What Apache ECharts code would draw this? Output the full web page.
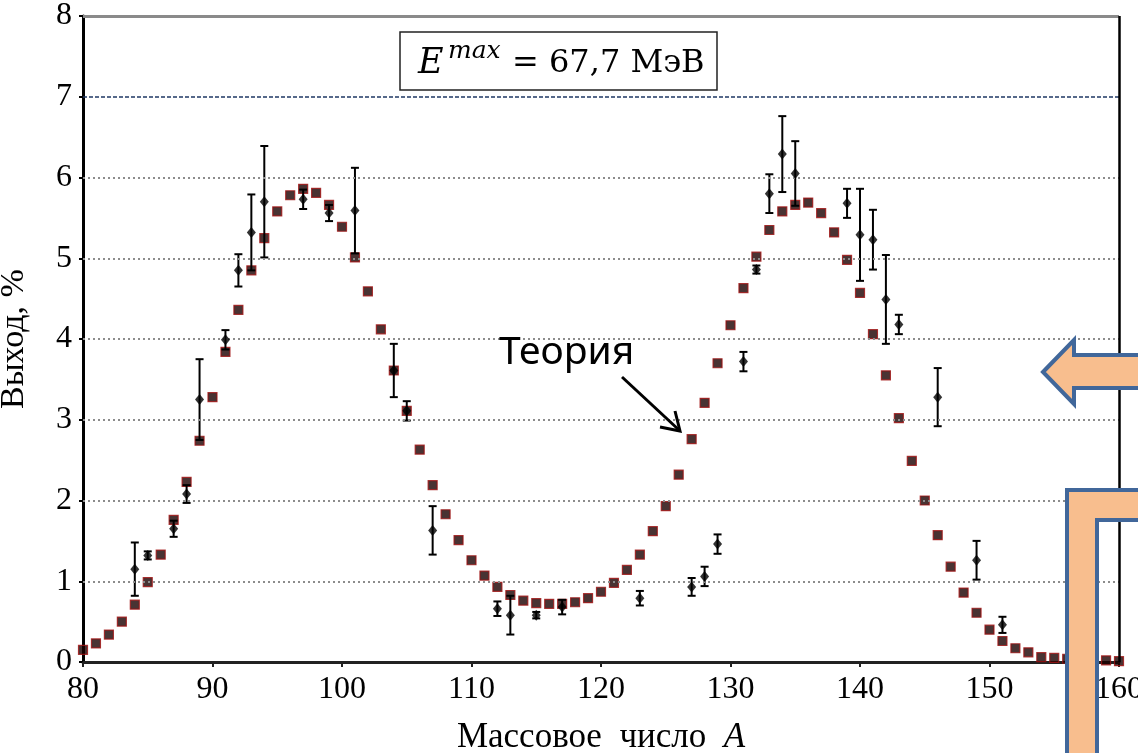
<!DOCTYPE html>
<html>

<head>
    <meta charset="UTF-8">
    <title>echarts-выход осколков</title>
</head>

<script src="https://cdn.jsdelivr.net/npm/echarts@6/dist/echarts.min.js"></script>

<body style="margin:0;background:#fff;">
    <div id="yieldBox" style="width: 1138px;height:753px;"></div>

    <script>
        // теория: массовое число и выход, %
        var theoryA = [];
        for (var a = 80; a <= 160; a++) theoryA.push(a);
        var theoryY = [
            0.15, 0.23, 0.34, 0.50, 0.71, 0.99, 1.33, 1.76, 2.23, 2.74,
            3.28, 3.84, 4.36, 4.85, 5.25, 5.58, 5.78, 5.86, 5.81, 5.66,
            5.39, 5.01, 4.59, 4.12, 3.61, 3.11, 2.63, 2.19, 1.83, 1.51,
            1.26, 1.07, 0.93, 0.83, 0.76, 0.73, 0.72, 0.72, 0.74, 0.79,
            0.87, 0.98, 1.14, 1.33, 1.62, 1.93, 2.32, 2.76, 3.21, 3.70,
            4.17, 4.63, 5.02, 5.35, 5.58, 5.66, 5.69, 5.56, 5.32, 4.98,
            4.57, 4.06, 3.55, 3.02, 2.49, 2.00, 1.57, 1.18, 0.86, 0.61,
            0.40, 0.26, 0.17, 0.12, 0.06, 0.05, 0.04, 0.03, 0.02, 0.02,
            0.01
        ];

        // эксперимент: массовое число, выход и погрешность
        var expA = [84, 85, 87, 88, 89, 91, 92, 93, 94, 97, 99, 101, 104, 105, 107, 112, 113, 115,
            117, 123, 127, 128, 129, 131, 132, 133, 134, 135, 139, 140, 141, 142, 143, 146, 149, 151];
        var expY = [1.15, 1.32, 1.65, 2.08, 3.25, 3.99, 4.85, 5.32, 5.70, 5.73, 5.56, 5.59, 3.61, 3.11, 1.63, 0.66, 0.58, 0.58,
            0.68, 0.79, 0.93, 1.06, 1.46, 3.72, 4.86, 5.80, 6.29, 6.05, 5.68, 5.29, 5.23, 4.49, 4.18, 3.28, 1.26, 0.46];
        var expErr = [0.33, 0.05, 0.10, 0.11, 0.50, 0.12, 0.20, 0.47, 0.69, 0.12, 0.10, 0.53, 0.33, 0.12, 0.30, 0.09, 0.24, 0.04,
            0.09, 0.09, 0.11, 0.12, 0.12, 0.12, 0.05, 0.24, 0.47, 0.40, 0.18, 0.57, 0.37, 0.55, 0.12, 0.36, 0.24, 0.10];

        var xTicks = [80, 90, 100, 110, 120, 130, 140, 150, 160];
        var yTicks = [0, 1, 2, 3, 4, 5, 6, 7, 8];

        yieldChart('yieldBox');

        function yieldChart(idname) {
            var myChart = echarts.init(document.getElementById(idname));
            var serif = '"Liberation Serif", "DejaVu Serif", serif';
            var mathSerif = '"DejaVu Serif", serif';

            var theoryData = theoryA.map(function (a, i) { return [a, theoryY[i]]; });
            var expData = expA.map(function (a, i) { return [a, expY[i], expErr[i]]; });

            // линии сетки 1..6 пунктиром, 7 - синий штрих
            var gridLines = [];
            yTicks.forEach(function (t) {
                if (t >= 1 && t <= 6) {
                    gridLines.push({ yAxis: t, lineStyle: { color: '#8c8c8c', width: 2, type: [2, 3] } });
                }
            });
            gridLines.push({ yAxis: 7, lineStyle: { color: '#1f3864', width: 1.5, type: [4, 2] } });
            gridLines.push({ yAxis: 8, lineStyle: { color: '#8a8a8a', width: 3, type: 'solid' } });
            gridLines.push({ xAxis: 160, lineStyle: { color: '#000', width: 2.5, type: 'solid' } });

            var option = {
                backgroundColor: '#fff',
                animation: false,
                grid: { left: 83, right: 19, top: 16, bottom: 91, outerBoundsMode: 'none', containLabel: false },
                xAxis: {
                    type: 'value',
                    min: 80,
                    max: 160,
                    interval: 10,
                    name: '{n|Массовое  число  }{i|A}',
                    nameLocation: 'middle',
                    nameGap: 58,
                    nameTextStyle: {
                        rich: {
                            n: { fontFamily: serif, fontSize: 35, color: '#000' },
                            i: { fontFamily: serif, fontSize: 35, fontStyle: 'italic', color: '#000' }
                        }
                    },
                    axisLine: { lineStyle: { color: '#222', width: 3 } },
                    axisTick: { show: true, length: 5, lineStyle: { color: '#222', width: 2 } },
                    axisLabel: { fontFamily: serif, fontSize: 32, color: '#000', margin: 12 },
                    splitLine: { show: false }
                },
                yAxis: {
                    type: 'value',
                    min: 0,
                    max: 8,
                    interval: 1,
                    name: 'Выход, %',
                    nameLocation: 'middle',
                    nameGap: 52,
                    nameTextStyle: { fontFamily: serif, fontSize: 34, color: '#000' },
                    axisLine: { show: true, lineStyle: { color: '#000', width: 3 } },
                    axisTick: { show: true, length: 4, lineStyle: { color: '#000', width: 2 } },
                    axisLabel: { fontFamily: serif, fontSize: 32, color: '#000', margin: 11 },
                    splitLine: { show: false }
                },
                series: [{
                        name: 'Теория',
                        type: 'scatter',
                        symbol: 'rect',
                        symbolSize: 9,
                        itemStyle: { color: '#1c0000', borderColor: '#a01010', borderWidth: 1.2 },
                        data: theoryData,
                        z: 3,
                        markLine: {
                            silent: true,
                            symbol: 'none',
                            label: { show: false },
                            data: gridLines
                        }
                    },
                    {
                        name: 'Погрешность',
                        type: 'custom',
                        z: 4,
                        renderItem: function (params, api) {
                            var x = api.value(0), y = api.value(1), e = api.value(2);
                            var top = api.coord([x, y + e]);
                            var bot = api.coord([x, y - e]);
                            var cap = 4;
                            var st = { stroke: '#000', lineWidth: 2 };
                            return {
                                type: 'group',
                                children: [
                                    { type: 'line', shape: { x1: top[0], y1: top[1], x2: bot[0], y2: bot[1] }, style: st },
                                    { type: 'line', shape: { x1: top[0] - cap, y1: top[1], x2: top[0] + cap, y2: top[1] }, style: st },
                                    { type: 'line', shape: { x1: bot[0] - cap, y1: bot[1], x2: bot[0] + cap, y2: bot[1] }, style: st }
                                ]
                            };
                        },
                        data: expData
                    },
                    {
                        name: 'Эксперимент',
                        type: 'scatter',
                        symbol: 'diamond',
                        symbolSize: [9, 11],
                        itemStyle: { color: '#000' },
                        z: 5,
                        data: expData
                    }
                ],
                graphic: [
                    // рамка с энергией
                    {
                        type: 'rect',
                        shape: { x: 400, y: 32, width: 317, height: 58 },
                        style: { fill: '#fff', stroke: '#222', lineWidth: 1.5 },
                        z: 10
                    },
                    {
                        type: 'text',
                        z: 11,
                        style: { x: 418, y: 81, text: 'E', fontFamily: mathSerif, fontStyle: 'italic', fontSize: 35, fill: '#000', verticalAlign: 'bottom' }
                    },
                    {
                        type: 'text',
                        z: 11,
                        style: { x: 448, y: 64, text: 'max', fontFamily: mathSerif, fontStyle: 'italic', fontSize: 25, fill: '#000', verticalAlign: 'bottom' }
                    },
                    {
                        type: 'text',
                        z: 11,
                        style: { x: 512, y: 80, text: '= 67,7 МэВ', fontFamily: mathSerif, fontSize: 32, fill: '#000', verticalAlign: 'bottom' }
                    },
                    // подпись "Теория" со стрелкой
                    {
                        type: 'text',
                        left: 499,
                        top: 333,
                        z: 11,
                        style: { text: 'Теория', fontFamily: '"Noto Sans", sans-serif', fontSize: 39, fill: '#000' }
                    },
                    {
                        type: 'line',
                        shape: { x1: 622, y1: 377, x2: 679, y2: 430 },
                        style: { stroke: '#000', lineWidth: 3 },
                        z: 11
                    },
                    {
                        type: 'polyline',
                        shape: { points: [[660, 427], [680, 431], [675, 411]] },
                        style: { stroke: '#000', lineWidth: 3, fill: null },
                        z: 11
                    },
                    // оранжевые фигуры поверх слайда
                    {
                        type: 'polygon',
                        shape: { points: [[1043, 372], [1074, 340], [1074, 355], [1145, 355], [1145, 388], [1074, 388], [1074, 404]] },
                        style: { fill: '#f8be8e', stroke: '#41679a', lineWidth: 4 },
                        z: 20
                    },
                    {
                        type: 'polygon',
                        shape: { points: [[1067, 760], [1067, 490], [1145, 490], [1145, 520], [1097, 520], [1097, 760]] },
                        style: { fill: '#f8be8e', stroke: '#41679a', lineWidth: 4 },
                        z: 20
                    }
                ]
            };

            myChart.setOption(option);
        }
    </script>

</body>

</html>
